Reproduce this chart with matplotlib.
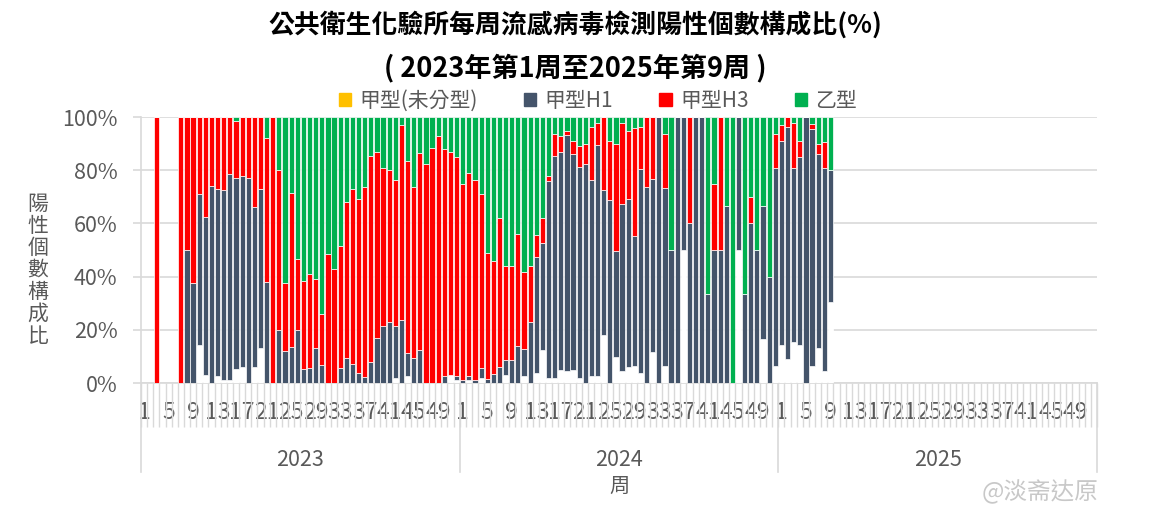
import numpy as np
import matplotlib.pyplot as plt
from matplotlib.patches import Patch
from matplotlib.transforms import blended_transform_factory

plt.rcParams['font.family'] = ['Noto Sans CJK TC', 'DejaVu Sans']

years = ['2023', '2024', '2025']
weeks_in_year = 52
week_labels = [str(w) for w in range(1, 53, 4)]

# share of positives per week (%); weeks with no data are 0
# "other" is the unlabelled white segment at the bottom of some bars
other_2023 = [0, 0, 0, 0, 0, 0, 0, 0, 0, 14.4, 3, 0, 2.5, 1.2, 1.2, 5.2, 6, 0, 5.9, 13.1,
              0, 0, 0, 0, 0, 0, 0, 0, 0, 0, 0, 0, 0, 0, 0, 0, 0, 0, 0, 0,
              0, 1.9, 0, 2.5, 0, 0, 0, 0, 0, 0, 3, 1]
h1_2023 = [0, 0, 0, 0, 0, 0, 0, 50, 37.5, 56.5, 59.5, 74, 70.5, 71.3, 77.2, 71.8, 71.9, 76.9, 60.3, 59.8,
           38, 0, 20, 12, 13.6, 19.8, 5.1, 5.8, 13, 6.8, 0, 0, 5.8, 9.5, 7.3, 3.9, 2.3, 7.8, 17, 21.5,
           23, 19.4, 23.5, 8.6, 9.3, 12.5, 0, 0, 0, 2.8, 0, 1.5]
h3_2023 = [0, 0, 100, 0, 0, 0, 100, 50, 62.5, 29.1, 37.5, 26, 27, 27.5, 21.6, 21.4, 22.1, 23.1, 33.8, 27.1,
           54, 100, 60, 25.5, 57.9, 26.7, 33.4, 35.2, 26, 19.2, 48.5, 43, 45.7, 58.5, 65.7, 65.1, 71.2, 77.7, 70, 59.5,
           57, 55.2, 73.5, 72.4, 64.2, 74, 82.5, 88.3, 92.7, 85, 84, 82.5]
b_2023 = [0, 0, 0, 0, 0, 0, 0, 0, 0, 0, 0, 0, 0, 0, 0, 1.6, 0, 0, 0, 0,
          8, 0, 20, 62.5, 28.5, 53.5, 61.5, 59, 61, 74, 51.5, 57, 48.5, 32, 27, 31, 26.5, 14.5, 13, 19,
          20, 23.5, 3, 16.5, 26.5, 13.5, 17.5, 11.7, 7.3, 12.2, 13, 15]

other_2024 = [0, 1, 0, 2, 0, 0, 0, 3, 0, 0, 2.5, 0, 3.7, 12.5, 2, 2, 5, 4.4, 5, 2,
              0, 2.5, 2.5, 18.1, 0, 9.75, 4.6, 5.9, 6.5, 3.75, 0, 11.6, 0, 6.5, 0, 0, 50, 0, 0, 0,
              0, 0, 0, 0, 0, 50, 0, 0, 0, 16.7, 0, 6.5]
h1_2024 = [1, 1.5, 1, 3.5, 1.5, 3.5, 6, 5.5, 8.7, 14, 10.2, 22.9, 43.8, 40.2, 73.9, 83.2, 81.9, 88.7, 81.2, 79.2,
           82.5, 74, 87.1, 54.4, 68.7, 40, 62.6, 63.2, 48.7, 76.8, 73.5, 65, 100, 66.9, 50, 100, 50, 60, 100, 100,
           33.3, 50, 50, 66.7, 0, 50, 33.3, 60, 50, 50, 40, 74.5]
h3_2024 = [74, 76.5, 75.5, 65.5, 47.5, 42.5, 56, 35.5, 35.3, 42.2, 29.1, 21.1, 8, 9.4, 2.1, 8.4, 6.1, 1.8, 4.7, 7.8,
           7.4, 19.6, 8.1, 27.5, 22.2, 40.2, 30.5, 25.5, 40.7, 15.5, 26.5, 23.4, 0, 20.2, 0, 0, 0, 40, 0, 0,
           0, 25, 50, 0, 0, 0, 0, 10, 0, 0, 0, 12.6]
b_2024 = [25, 21, 23.5, 29, 51, 54, 38, 56, 56, 43.8, 58.2, 56, 44.5, 37.9, 22, 6.4, 7, 5.1, 9.1, 11,
          10.1, 3.9, 2.3, 0, 9.1, 10.1, 2.3, 5.4, 4.1, 3.9, 0, 0, 0, 6.4, 50, 0, 0, 0, 0, 0,
          66.7, 25, 0, 33.3, 100, 0, 66.7, 30, 50, 33.3, 60, 6.4]

other_2025 = [14.4, 9, 15.6, 14.4, 0, 6.5, 13.1, 4.6, 30.3]
h1_2025 = [76.5, 87.2, 65.4, 70.6, 100, 89.1, 73.1, 76.4, 49.7]
h3_2025 = [6.2, 3.8, 16.7, 6.1, 0, 1.9, 3.7, 9.5, 0]
b_2025 = [2.9, 0, 2.3, 8.9, 0, 2.5, 10.1, 9.5, 20]

other = np.array(other_2023 + other_2024 + other_2025)
h1 = np.array(h1_2023 + h1_2024 + h1_2025)
h3 = np.array(h3_2023 + h3_2024 + h3_2025)
b = np.array(b_2023 + b_2024 + b_2025)

# 100% stacked: normalise each week to its total
total = other + h1 + h3 + b
scale = np.divide(1.0, total, out=np.zeros_like(total), where=total > 0)
series = [
    (other * scale, 'white', None),
    (h1 * scale, '#44546A', '甲型H1'),
    (h3 * scale, '#FF0000', '甲型H3'),
    (b * scale, '#00B050', '乙型'),
]
x = np.arange(len(total))
n_cat = weeks_in_year * len(years)

grey = '#595959'
line_grey = '#D9D9D9'

fig = plt.figure(figsize=(11.55, 5.2), dpi=100)
ax = fig.add_axes([141 / 1155, 1 - 383 / 520, 956 / 1155, 266 / 520])

bottom = np.zeros(len(x))
for vals, color, name in series:
    ax.bar(x, vals, bottom=bottom, width=0.85, color=color,
           edgecolor='white', linewidth=0.5, zorder=3)
    bottom += vals

ax.set_xlim(-0.5, n_cat - 0.5)
ax.set_ylim(0, 1)

# y axis
ax.set_yticks(np.linspace(0, 1, 6))
ax.set_yticklabels([f'{int(v * 100)}%' for v in np.linspace(0, 1, 6)])
ax.yaxis.grid(True, color=line_grey, linewidth=1.2, zorder=0)
ax.tick_params(axis='y', length=6, width=1.2, color=line_grey, pad=11,
               labelsize=15.5, labelcolor=grey)

# x axis: week labels every 4 weeks, boundary ticks on every week
major = [y * weeks_in_year + w for y in range(len(years)) for w in range(0, weeks_in_year, 4)]
ax.set_xticks(major)
ax.set_xticklabels(week_labels * len(years))
ax.set_xticks(np.arange(-0.5, n_cat, 1), minor=True)
ax.tick_params(axis='x', which='major', length=0, pad=13, labelsize=16.5, labelcolor=grey)
ax.tick_params(axis='x', which='minor', length=32, width=1, color=line_grey)

for side in ['top', 'right']:
    ax.spines[side].set_visible(False)
for side in ['left', 'bottom']:
    ax.spines[side].set_color(line_grey)
    ax.spines[side].set_linewidth(1.2)

# year level of the category axis
trans = blended_transform_factory(ax.transData, ax.transAxes)
for i, yr in enumerate(years):
    ax.text(i * weeks_in_year + (weeks_in_year - 1) / 2, -0.29, yr, transform=trans,
            ha='center', va='center', fontsize=15.5, color=grey)
for i in range(len(years) + 1):
    bx = i * weeks_in_year - 0.5
    ax.plot([bx, bx], [0, -0.335], transform=trans, color=line_grey,
            linewidth=1.2, clip_on=False)

fig.text(619 / 1155, 1 - 486 / 520, '周', ha='center', va='center', fontsize=14.5, color=grey)
fig.text(38 / 1155, 1 - 270 / 520, '\n'.join('陽性個數構成比'), ha='center', va='center',
         fontsize=15, color=grey, linespacing=1.0)

# titles
fig.text(0.498, 1 - 25 / 520, '公共衛生化驗所每周流感病毒檢測陽性個數構成比(%)',
         ha='center', va='center', fontsize=18.6, fontweight='bold')
fig.text(0.498, 1 - 68 / 520, '( 2023年第1周至2025年第9周 )',
         ha='center', va='center', fontsize=19.5, fontweight='bold')

handles = [Patch(color='#FFC000', label='甲型(未分型)')]
handles += [Patch(color=c, label=n) for _, c, n in series if n]
fig.legend(handles=handles, loc='center', bbox_to_anchor=(598 / 1155, 1 - 101 / 520),
           ncol=4, frameon=False, fontsize=15, labelcolor=grey,
           handlelength=0.6, handleheight=0.6, handletextpad=0.4, columnspacing=2.2)

fig.text(1040 / 1155, 1 - 492 / 520, '@淡斋达原', ha='center', va='center',
         fontsize=17, color='#C8C8C8')

fig.savefig('out.png', dpi=100)
